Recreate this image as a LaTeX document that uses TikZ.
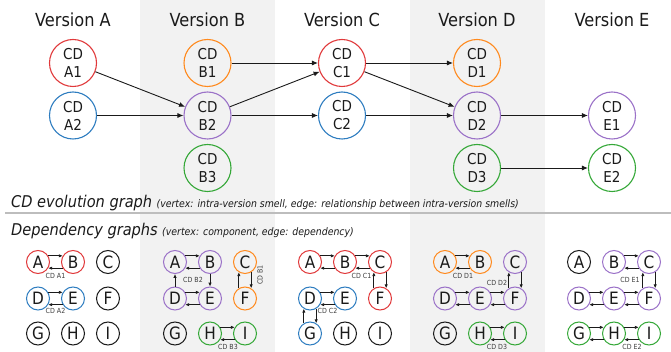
\documentclass[tikz,border=0pt]{standalone}
\usepackage{fontspec}
\setmainfont{DejaVu Sans Condensed}[ItalicFont={DejaVu Sans Condensed Oblique}]
\usetikzlibrary{arrows.meta}
\definecolor{cdred}{HTML}{E0393B}
\definecolor{cdblue}{HTML}{2E7DC0}
\definecolor{cdorange}{HTML}{FF8A1E}
\definecolor{cdpurple}{HTML}{9B72C8}
\definecolor{cdgreen}{HTML}{35A838}
\definecolor{bandgray}{HTML}{F2F2F2}
\definecolor{rulegray}{HTML}{BDBDBD}
\definecolor{ink}{HTML}{1A1A1A}
\tikzset{
  verlabel/.style={anchor=base, inner sep=0pt, text=ink, font=\fontsize{18}{18}\selectfont},
  cdnode/.style={circle, minimum size=47pt, inner sep=0pt, line width=1.1pt, align=center,
                 text=ink, font=\fontsize{15}{18}\selectfont},
  evo/.style={draw=ink, line width=0.9pt, -{Latex[length=6pt,width=5pt]}},
  dep/.style={circle, minimum size=23pt, inner sep=0pt, line width=1pt, text=ink,
              font=\fontsize{17}{17}\selectfont},
  dea/.style={draw=ink, line width=0.9pt, -{Latex[length=3.8pt,width=3.4pt]}},
  cdlab/.style={inner sep=0pt, text=ink!85, font=\fontsize{7}{7}\selectfont},
  bigcap/.style={anchor=base west, inner sep=0pt, text=ink, font=\fontsize{16.2}{17}\itshape},
  smallcap/.style={anchor=base west, inner sep=0pt, text=ink, font=\fontsize{10.4}{11}\itshape}
}
% horizontal pair: upper arrow left->right, lower arrow right->left
\newcommand\hpair[2]{%
  \draw[dea] (#1.31) -- (#2.149);
  \draw[dea] (#2.211) -- (#1.329);}
% vertical pair: left arrow bottom->top, right arrow top->bottom
\newcommand\vpair[2]{%
  \draw[dea] (#2.121) -- (#1.239);
  \draw[dea] (#1.301) -- (#2.59);}
\begin{document}
\begin{tikzpicture}[x=1pt,y=-1pt]
\useasboundingbox (0,0) rectangle (671,352);
% shaded version columns
\fill[bandgray] (140,0) rectangle (275,352);
\fill[bandgray] (410,0) rectangle (545,352);
% separator between the two panels
\draw[rulegray, line width=2pt] (5,213) -- (671,213);

% version headings
\node[verlabel] (vA) at (73,26.5) {Version A};
\node[verlabel] (vB) at (207.5,26.5) {Version B};
\node[verlabel] (vC) at (342,26.5) {Version C};
\node[verlabel] (vD) at (477,26.5) {Version D};
\node[verlabel] (vE) at (612,26.5) {Version E};

% CD evolution graph
\node[cdnode, draw=cdred]    (A1) at (73,63)      {CD\\A1};
\node[cdnode, draw=cdblue]   (A2) at (73,115.5)   {CD\\A2};
\node[cdnode, draw=cdorange] (B1) at (207.5,63)   {CD\\B1};
\node[cdnode, draw=cdpurple] (B2) at (207.5,115.5){CD\\B2};
\node[cdnode, draw=cdgreen]  (B3) at (207.5,168)  {CD\\B3};
\node[cdnode, draw=cdred]    (C1) at (342,63)     {CD\\C1};
\node[cdnode, draw=cdblue]   (C2) at (342,115.5)  {CD\\C2};
\node[cdnode, draw=cdorange] (D1) at (477,63)     {CD\\D1};
\node[cdnode, draw=cdpurple] (D2) at (477,115.5)  {CD\\D2};
\node[cdnode, draw=cdgreen]  (D3) at (477,168)    {CD\\D3};
\node[cdnode, draw=cdpurple] (E1) at (612,115.5)  {CD\\E1};
\node[cdnode, draw=cdgreen]  (E2) at (612,168)    {CD\\E2};

\draw[evo] (A1) -- (B2);
\draw[evo] (A2) -- (B2);
\draw[evo] (B1) -- (C1);
\draw[evo] (B2) -- (C1);
\draw[evo] (B2) -- (C2);
\draw[evo] (C1) -- (D1);
\draw[evo] (C1) -- (D2);
\draw[evo] (C2) -- (D2);
\draw[evo] (D2) -- (E1);
\draw[evo] (D3) -- (E2);

% captions
\node[bigcap] (cap1) at (11,207.5) {CD evolution graph};
\node[smallcap] (cap1s) at ([xshift=4pt]cap1.base east) {(vertex: intra-version smell, edge: relationship between intra-version smells)};
\node[bigcap] (cap2) at (11,235.5) {Dependency graphs};
\node[smallcap] (cap2s) at ([xshift=4pt]cap2.base east) {(vertex: component, edge: dependency)};

% dependency graphs, one per version
\foreach \g/\bx/\cA/\cB/\cC/\cD/\cE/\cF/\cG/\cH/\cI in {
    a/38/cdred/cdred/ink/cdblue/cdblue/ink/ink/ink/ink,
    b/175/cdpurple/cdpurple/cdorange/cdpurple/cdpurple/cdorange/ink/cdgreen/cdgreen,
    c/310/cdred/cdred/cdred/cdblue/cdblue/cdred/cdblue/ink/ink,
    d/445/cdorange/cdorange/cdpurple/cdpurple/cdpurple/cdpurple/ink/cdgreen/cdgreen,
    e/579/ink/cdpurple/cdpurple/cdpurple/cdpurple/cdpurple/cdgreen/cdgreen/cdgreen}{
  \node[dep, draw=\cA] (\g A) at (\bx,262) {A};
  \node[dep, draw=\cB] (\g B) at (\bx+35,262) {B};
  \node[dep, draw=\cC] (\g C) at (\bx+70,262) {C};
  \node[dep, draw=\cD] (\g D) at (\bx,298.5) {D};
  \node[dep, draw=\cE] (\g E) at (\bx+35,298.5) {E};
  \node[dep, draw=\cF] (\g F) at (\bx+70,298.5) {F};
  \node[dep, draw=\cG] (\g G) at (\bx,333.5) {G};
  \node[dep, draw=\cH] (\g H) at (\bx+35,333.5) {H};
  \node[dep, draw=\cI] (\g I) at (\bx+70,333.5) {I};
}

% version A
\hpair{aA}{aB}
\hpair{aD}{aE}
\node[cdlab] (la1) at (55.5,275.5) {CD A1};
\node[cdlab] (la2) at (55.5,311) {CD A2};

% version B
\hpair{bA}{bB}
\hpair{bD}{bE}
\draw[dea] (bD) -- (bA);
\draw[dea] (bB) -- (bE);
\vpair{bC}{bF}
\hpair{bH}{bI}
\node[cdlab] (lb2) at (193,280) {CD B2};
\node[cdlab, rotate=90] (lb1) at (260,275) {CD B1};
\node[cdlab] (lb3) at (228,346.5) {CD B3};

% version C
\hpair{cA}{cB}
\hpair{cB}{cC}
\vpair{cC}{cF}
\hpair{cD}{cE}
\vpair{cD}{cG}
\node[cdlab] (lc1) at (361.5,276) {CD C1};
\node[cdlab] (lc2) at (327.5,311) {CD C2};

% version D
\hpair{dA}{dB}
\hpair{dD}{dE}
\hpair{dE}{dF}
\vpair{dC}{dF}
\hpair{dH}{dI}
\node[cdlab] (ld1) at (463,276) {CD D1};
\node[cdlab] (ld2) at (497,283) {CD D2};
\node[cdlab] (ld3) at (497,346.5) {CD D3};

% version E
\hpair{eB}{eC}
\vpair{eC}{eF}
\hpair{eD}{eE}
\hpair{eE}{eF}
\hpair{eG}{eH}
\hpair{eH}{eI}
\node[cdlab] (le1) at (630,280) {CD E1};
\node[cdlab] (le2) at (632,346.5) {CD E2};
\end{tikzpicture}
\end{document}
